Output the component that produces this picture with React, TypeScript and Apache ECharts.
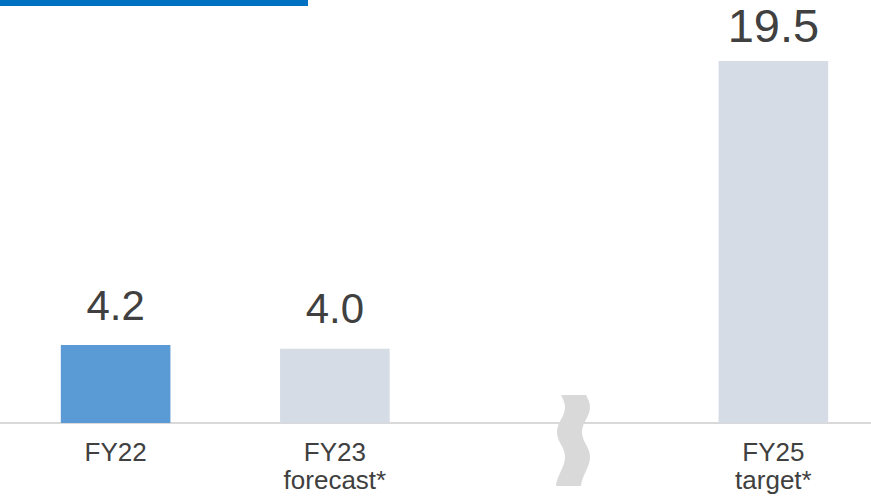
import React, { useEffect, useRef } from "react";
import * as echarts from "echarts";

const categories = ["FY22", "FY23\nforecast*", "", "FY25\ntarget*"];
const values: (number | null)[] = [4.2, 4.0, null, 19.5];
const barColors = ["#5B9BD5", "#D6DCE5", "#D6DCE5", "#D6DCE5"];
const labelSizes = [42, 42, 42, 47];
const labelDistances = [19, 19, 19, 12];

const breakPath =
  "M5,0 C7,4 9,8 9,12 C9,22 1,27 1,37 C1,47 9,52 9,62 C9,72 1,80 0,91 L25,91 C26,80 34,72 34,62 C34,52 26,47 26,37 C26,27 34,22 34,12 C34,8 32,4 30,0 Z";

let registered = false;

export default function App() {
  const ref = useRef<HTMLDivElement>(null);
  useEffect(() => {
    if (!ref.current) return;
    if (!registered) {
      echarts.graphic.registerShape("axisbreak", echarts.graphic.extendPath(breakPath, {}));
      registered = true;
    }
    const chart = echarts.init(ref.current, undefined, { renderer: "svg" });
    const font = "'Liberation Sans', Arial, sans-serif";
    chart.setOption({
      animation: false,
      grid: {
        left: 6,
        width: 877,
        top: 61,
        bottom: 76,
        containLabel: false,
        outerBoundsMode: "none",
      },
      xAxis: {
        type: "category",
        data: categories,
        axisLine: { show: false },
        axisTick: { show: false },
        axisLabel: {
          color: "#404040",
          fontSize: 26,
          lineHeight: 28,
          fontFamily: font,
          margin: 15,
          interval: 0,
        },
      },
      yAxis: {
        type: "value",
        min: 0,
        max: 19.5,
        show: false,
        splitLine: { show: false },
      },
      series: [
        {
          type: "bar",
          barWidth: "50%",
          data: values.map((v, i) => ({
            value: v,
            itemStyle: { color: barColors[i] },
            label: { fontSize: labelSizes[i], distance: labelDistances[i] },
          })),
          label: {
            show: true,
            position: "top",
            color: "#404040",
            fontFamily: font,
            formatter: (p: any) => (p.value == null ? "" : Number(p.value).toFixed(1)),
          },
        },
      ],
      graphic: [
        { type: "rect", left: 0, top: 0, shape: { x: 0, y: 0, width: 308, height: 6 }, style: { fill: "#0070C0" } },
        { type: "line", shape: { x1: 0, y1: 423, x2: 871, y2: 423 }, style: { stroke: "#D9D9D9", lineWidth: 2 } },
        { type: "axisbreak", x: 556, y: 395, style: { fill: "#D9D9D9" } },
      ],
    });
    return () => chart.dispose();
  }, []);
  return (
    <div
      ref={ref}
      style={{ position: "fixed", left: 0, top: 0, width: 871, height: 499, background: "#fff" }}
    />
  );
}
